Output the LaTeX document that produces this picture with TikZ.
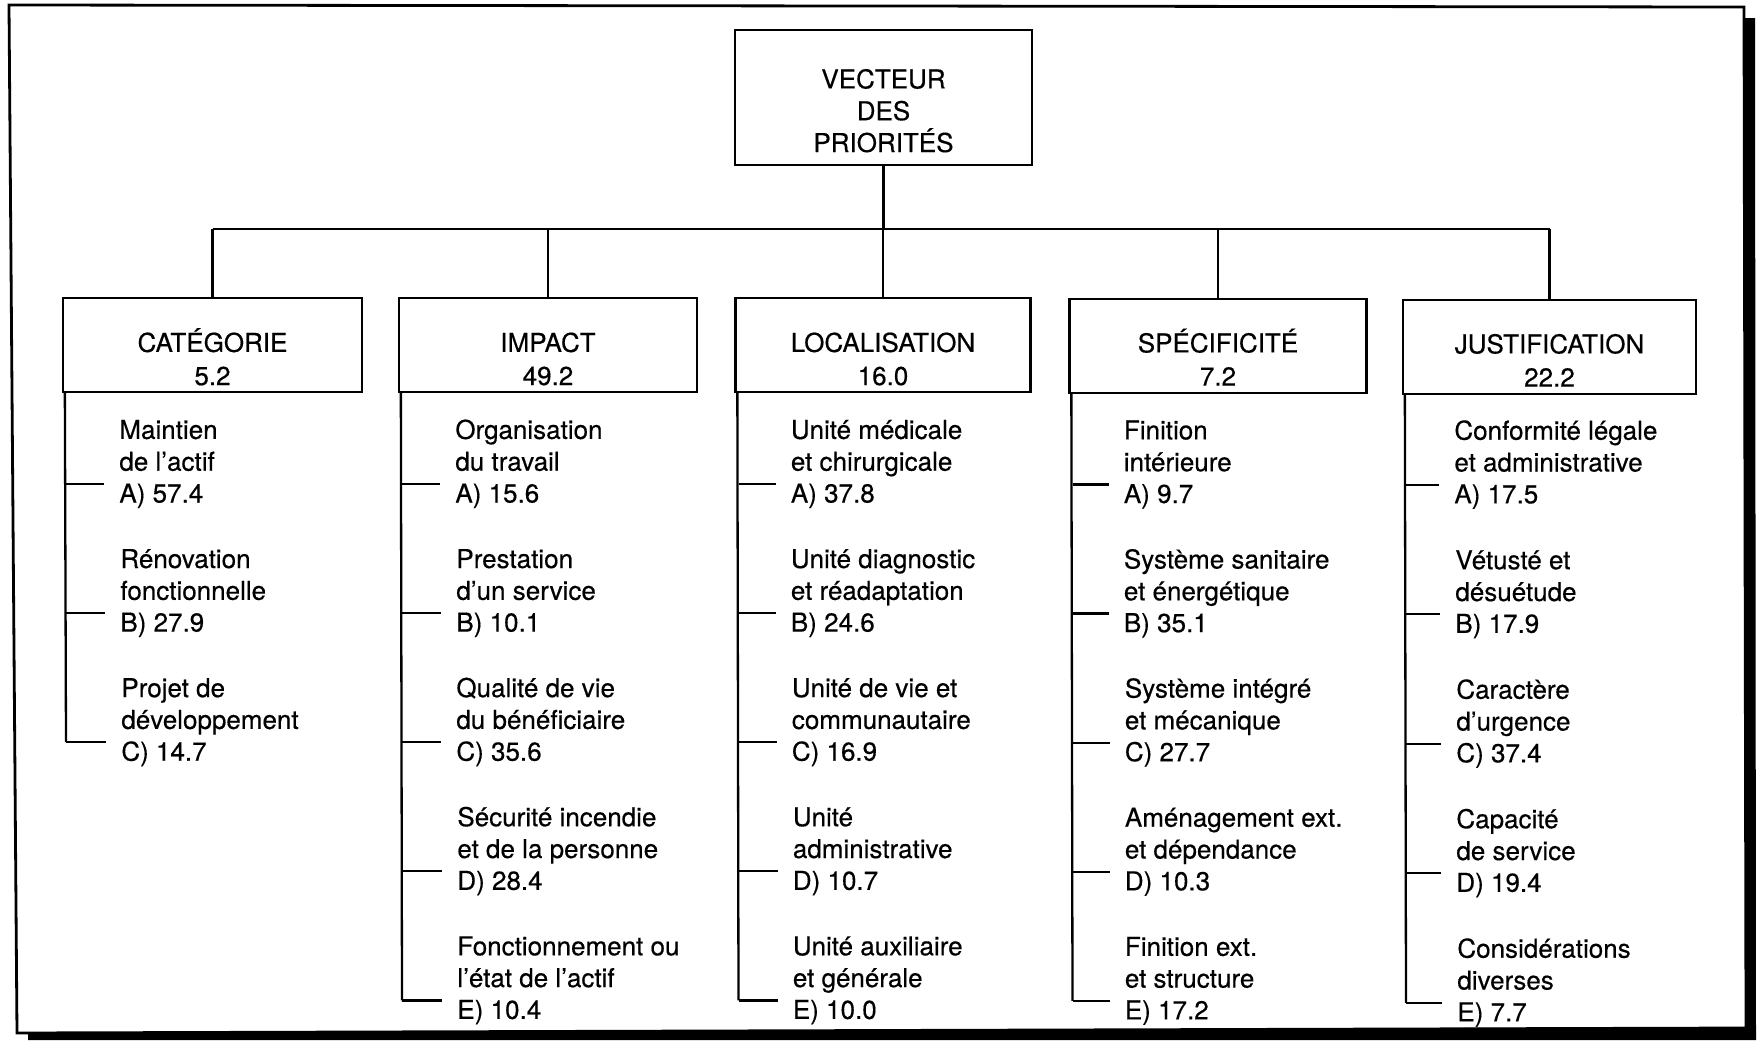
\documentclass[tikz,border=0pt]{standalone}
\usepackage{fontspec}
\setmainfont[FakeBold=0.4,AutoFakeBold=0.4]{TeX Gyre Heros}
\newcommand\entry[5]{%
  \node[itm] (#1) at ({#2+#3},#4) {#5};
  \coordinate (#1t) at ({#2+3},{#4+45.5});
  \draw[conn, shorten >=7.5pt] (#1t) -- (#1t -| #1.west);
}
\begin{document}
\begin{tikzpicture}[x=0.5pt,y=-0.5pt,
  conn/.style={line width=1.15pt},
  box/.style={draw, line width=1.15pt, inner sep=0pt},
  itm/.style={anchor=north west, inner sep=0pt, align=left, font=\fontsize{13}{15.9}\selectfont},
  hdr/.style={anchor=north, inner sep=0pt, align=center, font=\fontsize{13}{16.6}\selectfont},
  roottxt/.style={anchor=north, inner sep=0pt, align=center, font=\fontsize{13}{15.9}\selectfont}]
\useasboundingbox (0,0) rectangle (1758,1040);
% frame and shadow
\fill[black] (1745,18) -- (1755,18) -- (1756,1040) -- (28,1040) -- (28,1033) -- (1745,1027) -- cycle;
\draw[line width=1.4pt, line join=miter] (9,5) -- (1744,7) -- (1746,1028) -- (17,1033) -- cycle;

% root
\node[box, minimum width=148.5pt, minimum height=67.5pt] (root) at (883.5,97.5) {};
\node[roottxt] (rootlbl) at (883.5,88) {\smash{VECTEUR}\\DES\\PRIORITÉS};

% category boxes
\node[box, minimum width=149.5pt, minimum height=47pt] (c1) at (212.5,345) {};
\node[box, minimum width=149pt, minimum height=47pt] (c2) at (548,345) {};
\node[box, minimum width=147.5pt, minimum height=47pt] (c3) at (883,345) {};
\node[box, minimum width=148.5pt, minimum height=47pt] (c4) at (1218,346) {};
\node[box, minimum width=146.5pt, minimum height=47pt] (c5) at (1549.5,347) {};
\node[hdr] (h1) at (212.5,351.5) {\smash{CATÉGORIE}\\5.2};
\node[hdr] (h2) at (548,351.5) {\smash{IMPACT}\\49.2};
\node[hdr] (h3) at (883,351.5) {\smash{LOCALISATION}\\16.0};
\node[hdr] (h4) at (1218,352) {\smash{SPÉCIFICITÉ}\\7.2};
\node[hdr] (h5) at (1549.5,353) {\smash{JUSTIFICATION}\\22.2};

% bus
\coordinate (busL) at (212.5,229);
\coordinate (busR) at (1549.5,229);
\draw[conn] (busL) -- (busR);
\draw[conn] (root.south) -- (root.south |- busL);
\foreach \c in {c1,c2,c3,c4,c5} \draw[conn] (\c.north) -- (\c.north |- busL);

% column 1
\entry{c1A}{63}{56}{438.5}{\smash{Maintien}\\de l’actif\\A) 57.4}
\entry{c1B}{63}{57}{567.6}{\smash{Rénovation}\\fonctionnelle\\B) 27.9}
\entry{c1C}{63}{58}{696.7}{\smash{Projet de}\\développement\\C) 14.7}
\draw[conn] ([xshift=1.5pt]c1.south west) -- (c1Ct);

% column 2
\entry{c2A}{399}{56}{438.5}{\smash{Organisation}\\du travail\\A) 15.6}
\entry{c2B}{399}{57}{567.6}{\smash{Prestation}\\d’un service\\B) 10.1}
\entry{c2C}{399}{57}{696.7}{\smash{Qualité de vie}\\du bénéficiaire\\C) 35.6}
\entry{c2D}{399}{58}{825.8}{\smash{Sécurité incendie}\\et de la personne\\D) 28.4}
\entry{c2E}{399}{58}{954.9}{\smash{Fonctionnement ou}\\l’état de l’actif\\E) 10.4}
\draw[conn] ([xshift=1.5pt]c2.south west) -- (c2Et);

% column 3
\entry{c3A}{735.5}{55}{438.5}{\smash{Unité médicale}\\et chirurgicale\\A) 37.8}
\entry{c3B}{735.5}{55}{567.6}{\smash{Unité diagnostic}\\et réadaptation\\B) 24.6}
\entry{c3C}{735.5}{56}{696.7}{\smash{Unité de vie et}\\communautaire\\C) 16.9}
\entry{c3D}{735.5}{57}{825.8}{\smash{Unité}\\administrative\\D) 10.7}
\entry{c3E}{735.5}{57}{954.9}{\smash{Unité auxiliaire}\\et générale\\E) 10.0}
\draw[conn] ([xshift=1.5pt]c3.south west) -- (c3Et);

% column 4
\entry{c4A}{1069.5}{54}{439}{\smash{Finition}\\intérieure\\A) 9.7}
\entry{c4B}{1069.5}{54}{568.1}{\smash{Système sanitaire}\\et énergétique\\B) 35.1}
\entry{c4C}{1069.5}{55}{697.2}{\smash{Système intégré}\\et mécanique\\C) 27.7}
\entry{c4D}{1069.5}{55}{826.3}{\smash{Aménagement ext.}\\et dépendance\\D) 10.3}
\entry{c4E}{1069.5}{55}{955.4}{\smash{Finition ext.}\\et structure\\E) 17.2}
\draw[conn] ([xshift=1.5pt]c4.south west) -- (c4Et);

% column 5
\entry{c5A}{1403}{51}{439.3}{\smash{Conformité légale}\\et administrative\\A) 17.5}
\entry{c5B}{1403}{52}{568.8}{\smash{Vétusté et}\\désuétude\\B) 17.9}
\entry{c5C}{1403}{53}{698.3}{\smash{Caractère}\\d’urgence\\C) 37.4}
\entry{c5D}{1403}{53}{827.8}{\smash{Capacité}\\de service\\D) 19.4}
\entry{c5E}{1403}{54}{957.3}{\smash{Considérations}\\diverses\\E) 7.7}
\draw[conn] ([xshift=1.5pt]c5.south west) -- (c5Et);
\end{tikzpicture}
\end{document}
